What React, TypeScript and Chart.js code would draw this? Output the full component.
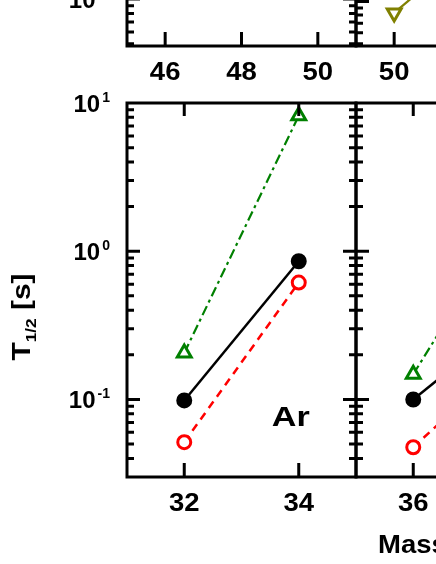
import React, { useEffect, useRef } from "react";
import { Chart, registerables } from "chart.js";
Chart.register(...registerables);

// ---------------- data ----------------
// Ar panel (main)
const AR_MASS = [32, 34];
const AR_EXP = [0.0985, 0.856]; // black filled circles, solid line
const AR_CALC_A = [0.0515, 0.615]; // red open circles, dashed line
const AR_CALC_B = [0.206, 8.2]; // green open triangles, dash-dot line
// next panel (partially visible, right)
const K_MASS = [36, 38];
const K_EXP = [0.1, 0.42];
const K_CALC_A = [0.0476, 0.245];
const K_CALC_B = [0.148, 2.6];
// upper-right panel (partially visible)
const UPPER_MASS = [50, 52];
const UPPER_CALC_C = [0.083, 0.24]; // olive open down-triangles

// ticks
const MAIN_X_TICKS = [32, 34];
const RIGHT_X_TICKS = [36, 38];
const UPPER_LEFT_X_TICKS = [46, 48, 50];
const UPPER_RIGHT_X_TICKS = [50, 52, 54];
const Y_DECADES = [-2, -1, 0, 1];

// axis ranges
const MAIN_Y_MIN = 0.03;
const MAIN_Y_MAX = 10;
const UPPER_Y_MIN = 0.0482;
const UPPER_Y_MAX = 1.182;

// labels
const ELEMENT_LABEL = "Ar";
const ELEMENT_LABEL_POS = { x: 33.86, y: 0.066 };
const Y_TITLE_MAIN = "T";
const Y_TITLE_SUB = "1/2";
const Y_TITLE_UNIT = " [s]";
const X_TITLE = "Mass Number";

const FONT = '"Liberation Sans", Arial, Helvetica, sans-serif';

const pts = (xs: number[], ys: number[]) => xs.map((x, i) => ({ x, y: ys[i] }));

const styleExp = {
  borderColor: "#000000",
  backgroundColor: "#000000",
  borderWidth: 2.5,
  pointRadius: 7,
  pointBorderWidth: 2,
  pointBackgroundColor: "#000000",
  pointBorderColor: "#000000",
  pointStyle: "circle",
  showLine: true,
};
const styleCalcA = {
  borderColor: "#ff0000",
  backgroundColor: "#ffffff",
  borderWidth: 2.5,
  borderDash: [8, 6],
  pointRadius: 6.5,
  pointBorderWidth: 3,
  pointBackgroundColor: "#ffffff",
  pointBorderColor: "#ff0000",
  pointStyle: "circle",
  showLine: true,
};
const styleCalcB = {
  borderColor: "#008000",
  backgroundColor: "#ffffff",
  borderWidth: 2.2,
  borderDash: [10, 4, 3, 4],
  pointRadius: 8,
  pointBorderWidth: 3,
  pointBackgroundColor: "#ffffff",
  pointBorderColor: "#008000",
  pointStyle: "triangle",
  showLine: true,
};
const styleCalcC = {
  borderColor: "#808000",
  backgroundColor: "#ffffff",
  borderWidth: 2.2,
  pointRadius: 8,
  pointBorderWidth: 3,
  pointBackgroundColor: "#ffffff",
  pointBorderColor: "#808000",
  pointStyle: "triangle",
  pointRotation: 180,
  showLine: true,
};

type Rect = { left: number; top: number; width: number; height: number };
type Area = { left: number; top: number; right: number; bottom: number };
type PanelCfg = {
  id: string;
  canvas: Rect;
  area: Area;
  xMin: number;
  xMax: number;
  yMin: number;
  yMax: number;
  xTicks: number[];
  yLabels: boolean;
  datasets: any[];
  extra?: (chart: any, ctx: CanvasRenderingContext2D) => void;
};

// draw text with a horizontal stretch (in the text's own frame)
function stretchedText(
  ctx: CanvasRenderingContext2D,
  text: string,
  x: number,
  y: number,
  sx: number,
  align: CanvasTextAlign
) {
  ctx.save();
  ctx.translate(x, y);
  ctx.scale(sx, 1);
  ctx.textAlign = align;
  ctx.fillText(text, 0, 0);
  ctx.restore();
}

function framePlugin(cfg: PanelCfg) {
  return {
    id: "frame_" + cfg.id,
    afterDraw(chart: any) {
      const ctx: CanvasRenderingContext2D = chart.ctx;
      const { left, right, top, bottom } = chart.chartArea;
      const xs = chart.scales.x;
      const ys = chart.scales.y;
      ctx.save();
      ctx.strokeStyle = "#000";
      ctx.fillStyle = "#000";
      ctx.lineCap = "butt";
      ctx.lineWidth = 3;
      ctx.strokeRect(left, top, right - left, bottom - top);

      ctx.beginPath();
      for (const v of cfg.xTicks) {
        if (v <= cfg.xMin || v >= cfg.xMax) continue;
        const px = xs.getPixelForValue(v);
        ctx.moveTo(px, bottom);
        ctx.lineTo(px, bottom - 14);
        ctx.moveTo(px, top);
        ctx.lineTo(px, top + 13);
      }
      const kMin = Math.floor(Math.log10(cfg.yMin));
      const kMax = Math.ceil(Math.log10(cfg.yMax));
      for (let k = kMin; k <= kMax; k++) {
        for (let m = 1; m <= 9; m++) {
          const v = m * Math.pow(10, k);
          if (v < cfg.yMin * 0.999 || v > cfg.yMax * 1.001) continue;
          const py = ys.getPixelForValue(v);
          if (py < top + 2 || py > bottom - 2) continue;
          const len = m === 1 ? 13 : 7;
          ctx.moveTo(left, py);
          ctx.lineTo(left + len, py);
          ctx.moveTo(right, py);
          ctx.lineTo(right - len, py);
        }
      }
      ctx.stroke();

      // x tick labels
      ctx.font = `bold 25px ${FONT}`;
      ctx.textBaseline = "alphabetic";
      for (const v of cfg.xTicks) {
        if (v <= cfg.xMin || v >= cfg.xMax) continue;
        stretchedText(ctx, String(v), xs.getPixelForValue(v), bottom + 34, 1.1, "center");
      }

      // y tick labels 10^k
      if (cfg.yLabels) {
        for (const k of Y_DECADES) {
          const v = Math.pow(10, k);
          if (v < cfg.yMin * 0.999 || v > cfg.yMax * 1.001) continue;
          const py = ys.getPixelForValue(v);
          const xr = left - 17;
          ctx.font = `bold 14px ${FONT}`;
          const exp = String(k);
          const w = ctx.measureText(exp).width;
          ctx.textAlign = "right";
          ctx.fillText(exp, xr, py - 1);
          ctx.font = `bold 24px ${FONT}`;
          ctx.fillText("10", xr - w - 2, py + 8.6);
        }
      }

      if (cfg.extra) cfg.extra(chart, ctx);
      ctx.restore();
    },
  };
}

function Panel({ cfg }: { cfg: PanelCfg }) {
  const ref = useRef<HTMLCanvasElement>(null);
  useEffect(() => {
    const c = cfg.canvas;
    const a = cfg.area;
    const chart = new Chart(ref.current as HTMLCanvasElement, {
      type: "scatter",
      data: { datasets: cfg.datasets },
      options: {
        animation: false,
        responsive: false,
        maintainAspectRatio: false,
        devicePixelRatio: 1,
        layout: {
          padding: {
            left: a.left - c.left,
            top: a.top - c.top,
            right: c.left + c.width - a.right,
            bottom: c.top + c.height - a.bottom,
          },
        },
        plugins: { legend: { display: false }, tooltip: { enabled: false } },
        scales: {
          x: { type: "linear", min: cfg.xMin, max: cfg.xMax, display: false },
          y: { type: "logarithmic", min: cfg.yMin, max: cfg.yMax, display: false },
        },
      } as any,
      plugins: [framePlugin(cfg)],
    });
    return () => chart.destroy();
  }, []);
  return (
    <canvas
      ref={ref}
      width={cfg.canvas.width}
      height={cfg.canvas.height}
      style={{
        position: "absolute",
        left: cfg.canvas.left,
        top: cfg.canvas.top,
        width: cfg.canvas.width,
        height: cfg.canvas.height,
      }}
    />
  );
}

const mainCfg: PanelCfg = {
  id: "main",
  canvas: { left: 0, top: 60, width: 370, height: 504 },
  area: { left: 127, top: 103, right: 356, bottom: 477 },
  xMin: 31,
  xMax: 35,
  yMin: MAIN_Y_MIN,
  yMax: MAIN_Y_MAX,
  xTicks: MAIN_X_TICKS,
  yLabels: true,
  datasets: [
    { label: "calc B", data: pts(AR_MASS, AR_CALC_B), ...styleCalcB },
    { label: "calc A", data: pts(AR_MASS, AR_CALC_A), ...styleCalcA },
    { label: "exp", data: pts(AR_MASS, AR_EXP), ...styleExp },
  ],
  extra: (chart, ctx) => {
    const xs = chart.scales.x;
    const ys = chart.scales.y;
    ctx.font = `bold 28px ${FONT}`;
    ctx.textBaseline = "alphabetic";
    stretchedText(
      ctx,
      ELEMENT_LABEL,
      xs.getPixelForValue(ELEMENT_LABEL_POS.x),
      ys.getPixelForValue(ELEMENT_LABEL_POS.y),
      1.22,
      "center"
    );
    // y axis title (rotated), in canvas coords: page y 317 -> canvas 257
    const SX = 1.15;
    ctx.save();
    ctx.translate(30, 257);
    ctx.rotate(-Math.PI / 2);
    ctx.scale(SX, 1);
    ctx.textAlign = "left";
    ctx.font = `bold 26px ${FONT}`;
    const wT = ctx.measureText(Y_TITLE_MAIN).width;
    const wU = ctx.measureText(Y_TITLE_UNIT).width;
    ctx.font = `bold 15px ${FONT}`;
    const wS = ctx.measureText(Y_TITLE_SUB).width;
    const total = wT + wS + wU;
    let x0 = -total / 2;
    ctx.font = `bold 26px ${FONT}`;
    ctx.fillText(Y_TITLE_MAIN, x0, 0);
    x0 += wT;
    ctx.font = `bold 15px ${FONT}`;
    ctx.fillText(Y_TITLE_SUB, x0, 6);
    x0 += wS;
    ctx.font = `bold 26px ${FONT}`;
    ctx.fillText(Y_TITLE_UNIT, x0, 0);
    ctx.restore();
  },
};

const rightCfg: PanelCfg = {
  id: "right",
  canvas: { left: 340, top: 60, width: 300, height: 504 },
  area: { left: 356, top: 103, right: 585, bottom: 477 },
  xMin: 35,
  xMax: 39,
  yMin: MAIN_Y_MIN,
  yMax: MAIN_Y_MAX,
  xTicks: RIGHT_X_TICKS,
  yLabels: false,
  datasets: [
    { label: "calc B", data: pts(K_MASS, K_CALC_B), ...styleCalcB },
    { label: "calc A", data: pts(K_MASS, K_CALC_A), ...styleCalcA },
    { label: "exp", data: pts(K_MASS, K_EXP), ...styleExp },
  ],
  extra: (_chart, ctx) => {
    ctx.font = `bold 25px ${FONT}`;
    ctx.textBaseline = "alphabetic";
    stretchedText(ctx, X_TITLE, 38, 493, 1.1, "left");
  },
};

const upperLeftCfg: PanelCfg = {
  id: "upperLeft",
  canvas: { left: 0, top: -160, width: 370, height: 260 },
  area: { left: 127, top: -160, right: 356, bottom: 46 },
  xMin: 45,
  xMax: 51,
  yMin: UPPER_Y_MIN,
  yMax: UPPER_Y_MAX,
  xTicks: UPPER_LEFT_X_TICKS,
  yLabels: true,
  datasets: [],
};

const upperRightCfg: PanelCfg = {
  id: "upperRight",
  canvas: { left: 340, top: -160, width: 300, height: 260 },
  area: { left: 356, top: -160, right: 585, bottom: 46 },
  xMin: 49,
  xMax: 55,
  yMin: UPPER_Y_MIN,
  yMax: UPPER_Y_MAX,
  xTicks: UPPER_RIGHT_X_TICKS,
  yLabels: false,
  datasets: [{ label: "calc C", data: pts(UPPER_MASS, UPPER_CALC_C), ...styleCalcC }],
};

export default function App() {
  return (
    <div
      style={{
        position: "fixed",
        left: 0,
        top: 0,
        width: 436,
        height: 564,
        overflow: "hidden",
        background: "#ffffff",
      }}
    >
      <Panel cfg={upperLeftCfg} />
      <Panel cfg={upperRightCfg} />
      <Panel cfg={mainCfg} />
      <Panel cfg={rightCfg} />
    </div>
  );
}
